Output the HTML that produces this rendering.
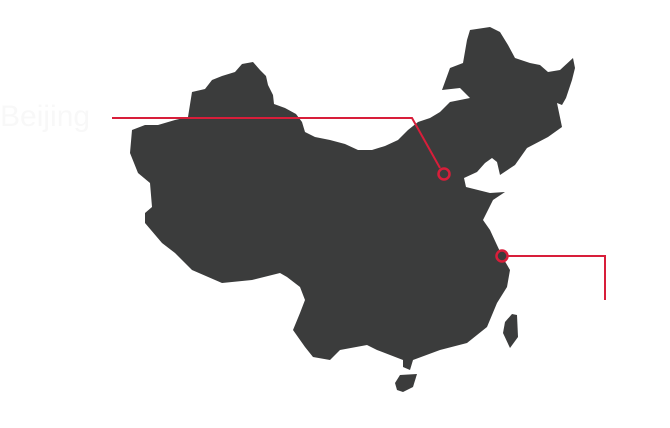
<!DOCTYPE html>
<html><head><meta charset="utf-8"><style>
html,body{margin:0;padding:0;background:#fff;width:670px;height:428px;overflow:hidden}
svg{display:block}
</style></head><body>
<svg width="670" height="428" viewBox="0 0 670 428" xmlns="http://www.w3.org/2000/svg">
<text x="0" y="126" font-family="Liberation Sans, sans-serif" font-size="30" fill="#f8f8f8">Beijing</text>
<g fill="#3b3c3c">
<polygon points="132,130 145,125 158,125 175,120 188,117 192,92 205,89 212,80 222,76 235,72 242,64 253,62 260,70 266,76 268,85 273,95 274,104 285,108 296,114 302,122 305,132 315,137 330,140 345,144 358,150 372,150 385,146 398,140 408,130 418,122 430,118 440,112 450,102 470,98 460,88 442,90 450,68 463,63 467,40 470,30 490,27 500,32 508,45 515,58 530,63 540,65 548,72 560,70 573,58 575,68 572,80 566,98 562,105 557,103 562,127 548,137 527,148 515,165 500,175 497,162 492,158 485,163 477,172 464,178 466,187 478,190 490,193 505,192 493,200 483,220 490,230 496,243 503,258 510,270 507,287 497,303 487,327 467,343 440,350 413,360 410,370 403,367 403,360 377,350 367,345 340,350 330,360 313,357 305,347 293,330 300,313 305,300 300,287 287,277 280,273 252,280 222,283 192,270 175,253 162,243 145,223 145,213 152,207 150,183 138,173 130,153"/>
<polygon points="395,383 400,375 417,374 413,387 403,392 397,390"/>
<polygon points="517,315 518,337 510,348 503,333 505,322 512,314"/>
</g>
<g fill="none" stroke="#d81e3a" stroke-width="2">
<polyline points="112,118 412,118 440,168"/>
<polyline points="508,256 605,256 605,300"/>
</g>
<circle cx="444" cy="174" r="5.5" fill="#3b3c3c" stroke="#d81e3a" stroke-width="2.5"/>
<circle cx="502" cy="256" r="5.5" fill="#3b3c3c" stroke="#d81e3a" stroke-width="2.5"/>
</svg>
</body></html>
